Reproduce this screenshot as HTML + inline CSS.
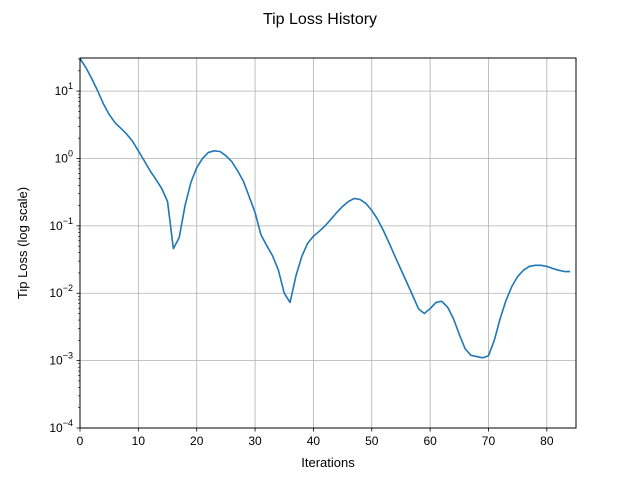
<!DOCTYPE html>
<html>
<head>
<meta charset="utf-8">
<style>
  html,body{margin:0;padding:0;background:#fff;}
  svg{display:block;font-family:"Liberation Sans","DejaVu Sans",sans-serif;}
</style>
</head>
<body>
<svg id="chart" width="640" height="480" viewBox="0 0 640 480" xmlns="http://www.w3.org/2000/svg">
  <rect x="0" y="0" width="640" height="480" fill="#fff"/>
  <text x="320" y="24" text-anchor="middle" font-size="16" fill="#000">Tip Loss History</text>
  <g id="grid"></g>
  <g id="series"></g>
  <rect x="80" y="58" width="496" height="370" fill="none" stroke="#000" stroke-width="1"/>
  <g id="axes"></g>
  <text x="328" y="467" text-anchor="middle" font-size="13" fill="#000">Iterations</text>
  <text transform="translate(27,243) rotate(-90)" text-anchor="middle" font-size="13" fill="#000">Tip Loss (log scale)</text>
</svg>
<script>
const iterations = [];
for (let i = 0; i <= 84; i++) iterations.push(i);
const tipLoss = [30.5,22.4,15.4,10.2,6.5,4.5,3.4,2.8,2.3,1.8,1.3,0.93,0.66,0.49,0.36,0.23,0.046,0.067,0.2,0.44,
  0.73,1.0,1.23,1.3,1.27,1.1,0.9,0.66,0.46,0.27,0.158,0.074,0.051,0.036,0.022,0.010,0.0073,0.018,0.035,0.055,
  0.07,0.083,0.10,0.125,0.158,0.194,0.23,0.255,0.246,0.215,0.17,0.125,0.085,0.055,0.035,0.0225,0.0145,0.0093,0.0059,0.005,
  0.0059,0.0073,0.0076,0.0062,0.0042,0.00245,0.0015,0.0012,0.00115,0.0011,0.00118,0.002,0.0042,0.0078,0.0126,0.0177,0.022,0.025,0.026,0.026,
  0.025,0.0233,0.022,0.021,0.021];
const xTicks = [0,10,20,30,40,50,60,70,80];
const yTickExps = [-4,-3,-2,-1,0,1];

const NS = "http://www.w3.org/2000/svg";
const L = 80, R = 576, T = 58, B = 428;
const xMin = 0, xMax = 85;
const yMinExp = -4, yMaxExp = Math.log10(31);
function xs(v){ return L + (v - xMin) / (xMax - xMin) * (R - L); }
function ys(v){ return B - (Math.log10(v) - yMinExp) / (yMaxExp - yMinExp) * (B - T); }
function mk(tag, attrs, parent){
  const e = document.createElementNS(NS, tag);
  for (const k in attrs) e.setAttribute(k, attrs[k]);
  parent.appendChild(e);
  return e;
}
const grid = document.getElementById('grid');
const axes = document.getElementById('axes');
const series = document.getElementById('series');

xTicks.forEach(t => {
  const x = xs(t);
  const g = mk('line', {x1:x, x2:x, y1:T, y2:B, stroke:'#b0b0b0', 'stroke-width':0.8}, grid);
  
  
  mk('line', {x1:x, x2:x, y1:B, y2:B+3.5, stroke:'#000', 'stroke-width':0.8}, axes);
  const lab = mk('text', {x:x, y:B+17, 'text-anchor':'middle', 'font-size':12, fill:'#000'}, axes);
  lab.textContent = t;
  
  
});

yTickExps.forEach(e => {
  const y = ys(Math.pow(10, e));
  const g = mk('line', {x1:L, x2:R, y1:y, y2:y, stroke:'#b0b0b0', 'stroke-width':0.8}, grid);
  
  
  mk('line', {x1:L-3.5, x2:L, y1:y, y2:y, stroke:'#000', 'stroke-width':0.8}, axes);
  const lab = mk('text', {x:L-7, y:y+4, 'text-anchor':'end', 'font-size':12, fill:'#000'}, axes);
  
  
  const base = document.createElementNS(NS, 'tspan');
  base.textContent = '10';
  lab.appendChild(base);
  const sup = document.createElementNS(NS, 'tspan');
  sup.setAttribute('dy', '-6');
  sup.setAttribute('font-size', '9');
  sup.textContent = (e < 0 ? '\u2212' + (-e) : String(e));
  lab.appendChild(sup);
  for (let m = 2; m <= 9; m++) {
    const v = m * Math.pow(10, e);
    if (Math.log10(v) > yMaxExp) break;
    const yy = ys(v);
    mk('line', {x1:L-2, x2:L, y1:yy, y2:yy, stroke:'#000', 'stroke-width':0.6}, axes);
  }
});

const d = iterations.map((it, i) => (i ? 'L' : 'M') + xs(it).toFixed(2) + ',' + ys(tipLoss[i]).toFixed(2)).join(' ');
const line = mk('path', {d:d, fill:'none', stroke:'#1f77b4', 'stroke-width':1.6, 'stroke-linejoin':'round'}, series);


</script>
</body>
</html>
